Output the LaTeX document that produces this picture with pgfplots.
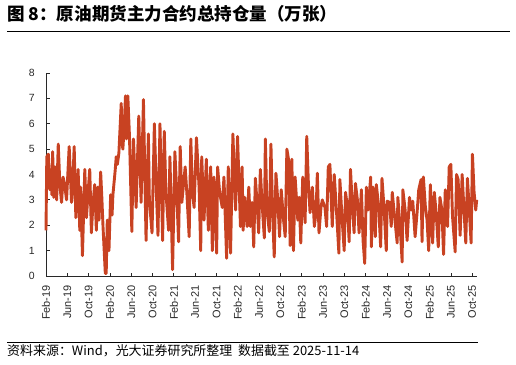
\documentclass[border=0pt]{standalone}
\usepackage{pgfplots}
\pgfplotsset{compat=1.18}
\usepackage{fontspec}
\setmainfont{Liberation Sans}
\newfontfamily\cjk{Noto Sans CJK SC}
\definecolor{lineRed}{RGB}{200,66,34}
\definecolor{axGray}{RGB}{40,40,40}
\begin{document}
\begin{tikzpicture}[x=1bp,y=1bp]
\path[use as bounding box] (0,0) rectangle (516,364);
\node[anchor=base west, inner sep=0pt] at (7,344) {\fontsize{17.6}{20}\selectfont\cjk\bfseries 图 8：原油期货主力合约总持仓量（万张）};
\draw[line width=0.8bp] (7,333) -- (510,333);
\begin{axis}[
  at={(46bp,88bp)}, anchor=south west,
  scale only axis, width=431bp, height=203bp,
  xmin=0, xmax=80.9, ymin=0, ymax=8,
  axis x line=bottom, axis y line=left,
  axis line style={-, axGray, line width=0.8bp},
  tick align=inside, tick style={axGray, line width=0.8bp},
  major tick length=3.5bp,
  xtick={0,4,...,80},
  xticklabels={Feb-19,Jun-19,Oct-19,Feb-20,Jun-20,Oct-20,Feb-21,Jun-21,Oct-21,Feb-22,Jun-22,Oct-22,Feb-23,Jun-23,Oct-23,Feb-24,Jun-24,Oct-24,Feb-25,Jun-25,Oct-25},
  xticklabel style={rotate=90, anchor=east, inner sep=0pt, font=\fontsize{11}{12}\selectfont, text=axGray},
  xticklabel shift=9bp,
  ytick={0,1,...,8},
  yticklabel style={anchor=east, inner sep=0pt, font=\fontsize{10.5}{12}\selectfont, text=axGray},
  yticklabel shift=11bp,
  /pgf/number format/assume math mode=true,
  clip=false,
]
\addplot[lineRed, line width=2.9bp, line join=round, mark=none] coordinates {
(0.0,1.8)(0.15,4.7)(0.45,4.8)(0.7,3.4)(0.95,4.2)(1.1,3.2)(1.25,4.9)(1.45,3.1)(1.7,4.3)(2.0,3.0)(2.3,5.2)(2.6,3.6)(2.92,2.9)(3.2,3.9)(3.5,3.6)(3.86,3.0)(4.35,5.1)(4.79,2.9)(5.0,3.5)(5.29,5.1)(5.6,2.3)(6.03,4.2)(6.34,1.8)(6.5,3.5)(6.84,0.8)(7.28,4.2)(7.59,2.3)(7.9,3.3)(8.21,4.2)(8.52,1.7)(8.8,2.8)(9.14,3.6)(9.45,1.8)(9.7,3.5)(9.95,2.2)(10.26,4.1)(10.5,3.0)(10.7,1.95)(11.13,0.1)(11.3,0.1)(11.5,2.2)(11.82,1.0)(12.13,3.2)(12.4,2.4)(12.56,3.2)(12.87,3.9)(13.0,4.2)(13.18,4.7)(13.4,4.4)(13.68,4.85)(14.12,6.8)(14.3,5.2)(14.43,5.0)(14.7,6.0)(14.92,7.1)(15.1,5.4)(15.36,7.1)(15.67,5.5)(16.11,1.75)(16.42,5.4)(16.92,2.7)(17.41,6.3)(17.85,2.9)(18.29,6.95)(18.78,1.4)(19.22,5.6)
(19.40,3.0)(19.90,1.7)(20.34,6.0)(20.77,3.0)(21.02,1.6)(21.39,6.0)(21.89,1.4)(22.20,5.7)(22.51,3.3)(23.01,1.8)(23.26,4.7)(23.76,0.25)(24.19,4.9)(24.50,3.5)(24.88,1.35)(25.19,5.1)(25.50,2.9)(26.12,4.3)(26.43,3.3)(26.87,1.55)(27.18,5.4)(27.49,3.3)(27.80,2.7)(28.24,5.45)(28.73,3.5)(29.04,1.0)(29.23,4.7)(29.66,2.2)(30.10,4.6)(30.47,1.8)(30.91,4.3)(31.22,1.0)(31.53,3.9)(32.03,0.9)(32.21,4.3)(32.59,3.3)(33.08,2.7)(33.40,3.9)(33.90,0.7)(34.21,4.3)(34.64,0.9)(35.08,5.6)(35.58,2.6)(35.95,5.5)
(36.50,1.95)(36.81,4.3)(37.0,1.8)(37.31,3.1)(37.74,1.95)(38.06,3.5)(38.37,1.95)(38.68,2.9)(38.99,1.15)(39.30,3.85)(39.61,2.9)(39.92,1.7)(40.23,4.2)(40.54,2.9)(40.98,1.5)(41.17,5.4)(41.48,2.6)(41.91,1.75)(42.22,5.2)(42.53,2.5)(42.84,0.75)(43.16,4.05)(43.53,2.9)(43.84,1.55)(44.15,3.4)(44.59,2.2)(44.90,1.55)(45.21,5.0)(45.52,4.6)(45.83,1.2)(46.14,4.6)(46.45,1.0)(46.76,3.9)(47.26,2.2)(47.51,3.1)(47.82,1.3)(48.19,3.9)(48.63,2.1)(48.94,5.5)(49.25,3.65)(49.56,2.5)(50.0,3.5)(50.37,1.95)(50.68,2.5)(50.93,4.05)(51.24,1.7)(51.61,2.7)(51.86,3.0)(52.36,2.7)(52.67,1.95)(52.98,4.3)(53.29,4.4)(53.73,1.95)(54.10,4.0)(54.54,2.5)(54.97,0.9)(55.16,3.8)(55.59,2.2)(55.97,1.0)(56.22,3.3)(56.59,2.7)(56.9,1.35)(57.15,4.2)(57.52,2.7)(57.83,1.7)(58.08,3.65)(58.45,3.0)(58.76,1.7)(59.20,3.4)
(59.51,1.4)(59.82,0.5)(60.13,3.5)(60.45,2.6)(60.94,3.9)(61.07,1.15)(61.38,3.5)(61.81,1.55)(62.0,3.6)(62.44,2.75)(62.81,1.15)(63.06,3.85)(63.43,2.75)(63.87,1.0)(64.05,2.95)(64.49,2.9)(64.80,1.95)(64.99,3.3)(65.42,2.35)(65.92,1.3)(66.04,3.1)(66.54,1.7)(66.85,0.55)(66.98,3.4)(67.41,2.6)(67.78,1.4)(68.22,3.1)(68.53,2.6)(68.84,2.95)(69.28,1.55)(69.65,2.5)(69.96,3.4)(70.40,3.8)(70.58,1.35)(70.83,3.9)(71.20,2.75)(71.52,2.2)(71.83,1.0)(72.14,3.6)(72.57,1.3)(72.88,3.3)(73.19,2.6)(73.63,1.15)(73.94,3.1)(74.31,2.6)(74.62,0.85)(74.94,3.4)(75.37,1.95)(75.68,4.3)(75.99,4.4)(76.30,2.35)(76.80,0.95)(77.05,4.0)(77.36,3.8)(77.73,1.6)(78.11,4.0)(78.48,2.5)(78.79,1.3)(79.10,3.85)(79.41,2.75)(79.79,1.3)(80.04,4.8)(80.35,3.3)(80.66,2.6)(80.84,3.0)
};
\end{axis}
\draw[line width=0.8bp] (7,21.7) -- (478,21.7);
\node[anchor=base west, inner sep=0pt] at (7,8.5) {\fontsize{13}{15}\selectfont\cjk 资料来源：Wind，光大证券研究所整理\ \ 数据截至 2025-11-14};
\end{tikzpicture}
\end{document}
